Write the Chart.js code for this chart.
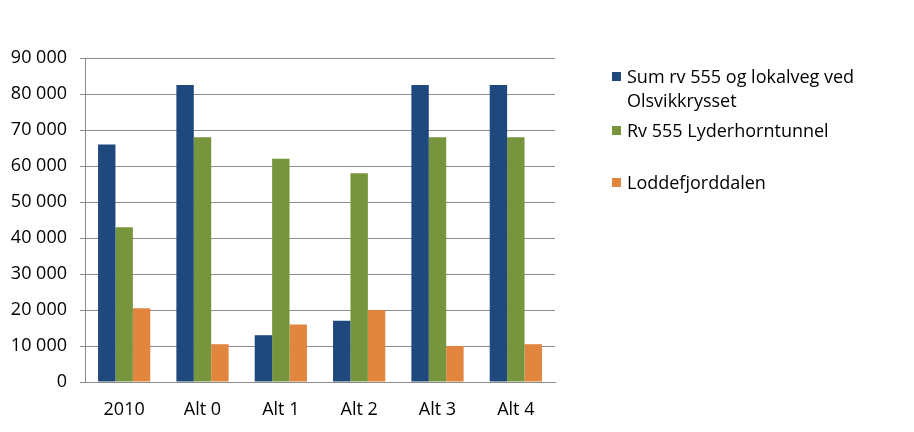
<!DOCTYPE html>
<html>
<head>
<meta charset="utf-8">
<script src="https://cdn.jsdelivr.net/npm/chart.js@4/dist/chart.umd.min.js"></script>
<style>
  html, body { margin: 0; padding: 0; background: #fff; }
  #wrap { position: relative; width: 914px; height: 432px; }
  #legend { position: absolute; left: 612px; top: 0; font-family: "Open Sans", sans-serif; font-size: 18px; color: #000; }
  .item { position: absolute; left: 0; width: 295px; line-height: 24px; padding-left: 15px; white-space: nowrap; }
  .sw { position: absolute; left: 0; top: 8px; width: 9px; height: 9px; }
</style>
</head>
<body>
<div id="wrap">
  <canvas id="trafficChart" width="914" height="432"></canvas>
  <div id="legend"></div>
</div>
<script>
// categories and series (ÅDT)
const categories = ['2010', 'Alt 0', 'Alt 1', 'Alt 2', 'Alt 3', 'Alt 4'];
const sumRv555 = [66000, 82500, 13000, 17000, 82500, 82500];
const lyderhorn = [43000, 68000, 62000, 58000, 68000, 68000];
const loddefjord = [20500, 10500, 16000, 20000, 10000, 10500];
const seriesNames = [['Sum rv 555 og lokalveg ved', 'Olsvikkrysset'], ['Rv 555 Lyderhorntunnel'], ['Loddefjorddalen']];
const colors = ['#1F487C', '#77953D', '#E2853F'];
const legendTops = [64, 118, 170];

const fontFamily = '"Open Sans", sans-serif';
const gridColor = '#8C8C8C';

function fmt(v) {
    return String(v).replace(/\B(?=(\d{3})+(?!\d))/g, ' ');
}

const ctx = document.getElementById('trafficChart').getContext('2d');

window.trafficChartInstance = new Chart(ctx, {
    type: 'bar',
    data: {
        labels: categories,
        datasets: [
            { label: seriesNames[0].join(' '), data: sumRv555, backgroundColor: colors[0] },
            { label: seriesNames[1].join(' '), data: lyderhorn, backgroundColor: colors[1] },
            { label: seriesNames[2].join(' '), data: loddefjord, backgroundColor: colors[2] }
        ]
    },
    options: {
        responsive: false,
        animation: false,
        datasets: {
            bar: { barPercentage: 1, categoryPercentage: 0.667 }
        },
        layout: { padding: { top: 58, right: 359, bottom: 0, left: 0 } },
        plugins: {
            legend: { display: false },
            tooltip: { enabled: false }
        },
        scales: {
            x: {
                grid: { display: false, drawTicks: false },
                border: { display: true, color: gridColor },
                ticks: { color: '#000', font: { family: fontFamily, size: 18 }, padding: 17 },
                afterFit: function(scale) { scale.height = 50; }
            },
            y: {
                min: 0,
                max: 90000,
                grid: { color: gridColor, tickLength: 5 },
                border: { color: gridColor },
                ticks: {
                    stepSize: 10000,
                    color: '#000',
                    padding: 13,
                    font: { family: fontFamily, size: 18 },
                    callback: function(v) { return fmt(v); }
                },
                afterFit: function(scale) { scale.width = 85; }
            }
        }
    }
});

// legend drawn as html so the first entry can wrap
const legend = document.getElementById('legend');
seriesNames.forEach(function(lines, i) {
    const item = document.createElement('div');
    item.className = 'item';
    item.style.top = legendTops[i] + 'px';
    const sw = document.createElement('span');
    sw.className = 'sw';
    sw.style.background = colors[i];
    item.appendChild(sw);
    lines.forEach(function(t, j) {
        if (j > 0) item.appendChild(document.createElement('br'));
        item.appendChild(document.createTextNode(t));
    });
    legend.appendChild(item);
});
</script>
</body>
</html>
